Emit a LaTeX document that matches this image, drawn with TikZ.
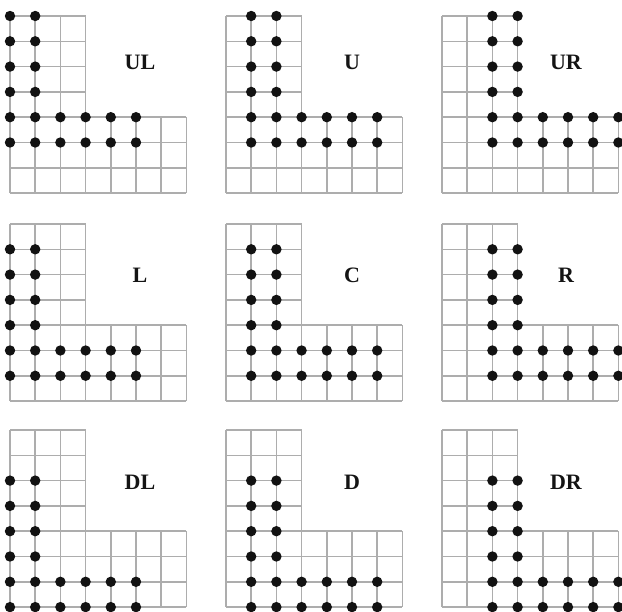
\documentclass[tikz,border=0pt]{standalone}
\usepackage{fontspec}
\setmainfont{Liberation Serif}
\begin{document}
\begin{tikzpicture}[x=1pt,y=-1pt,
  gridline/.style={draw=black!32,line width=1.5pt,line cap=square},
  dotmark/.style={fill=black!93},
  panellabel/.style={font=\bfseries\fontsize{22}{22}\selectfont,text=black!92,inner sep=0pt}]
\useasboundingbox (0,0) rectangle (622,612);
\clip (0,0) rectangle (622,612);
\fill[white] (0,0) rectangle (622,612);
\foreach \px/\py/\dx/\dy/\lab/\lx/\ly/\nm in {
  10/16/0/0/UL/140/62/ul, 226/16/1/0/U/352/62/u, 442/16/2/0/UR/566/62/ur,
  10/224/0/1/L/140/275/l, 226/224/1/1/C/352/275/c, 442/224/2/1/R/566/275/r,
  10/430/0/2/DL/140/482/dl, 226/430/1/2/D/352/482/d, 442/430/2/2/DR/566/482/dr}{
  \begin{scope}[shift={(\px,\py)},x=25.2pt,y=-25.3pt]
    \foreach \r in {0,...,3} \draw[gridline] (0,\r) -- (3,\r);
    \foreach \r in {4,...,7} \draw[gridline] (0,\r) -- (7,\r);
    \foreach \c in {0,...,3} \draw[gridline] (\c,0) -- (\c,7);
    \foreach \c in {4,...,7} \draw[gridline] (\c,4) -- (\c,7);
    \foreach \r in {0,...,5} \foreach \c in {0,1}
      \fill[dotmark] (\dx+\c,\dy+\r) circle (5.2pt);
    \foreach \r in {4,5} \foreach \c in {2,...,5}
      \fill[dotmark] (\dx+\c,\dy+\r) circle (5.2pt);
  \end{scope}
  \node[panellabel] (\nm) at (\lx,\ly) {\lab};
}
\end{tikzpicture}
\end{document}
